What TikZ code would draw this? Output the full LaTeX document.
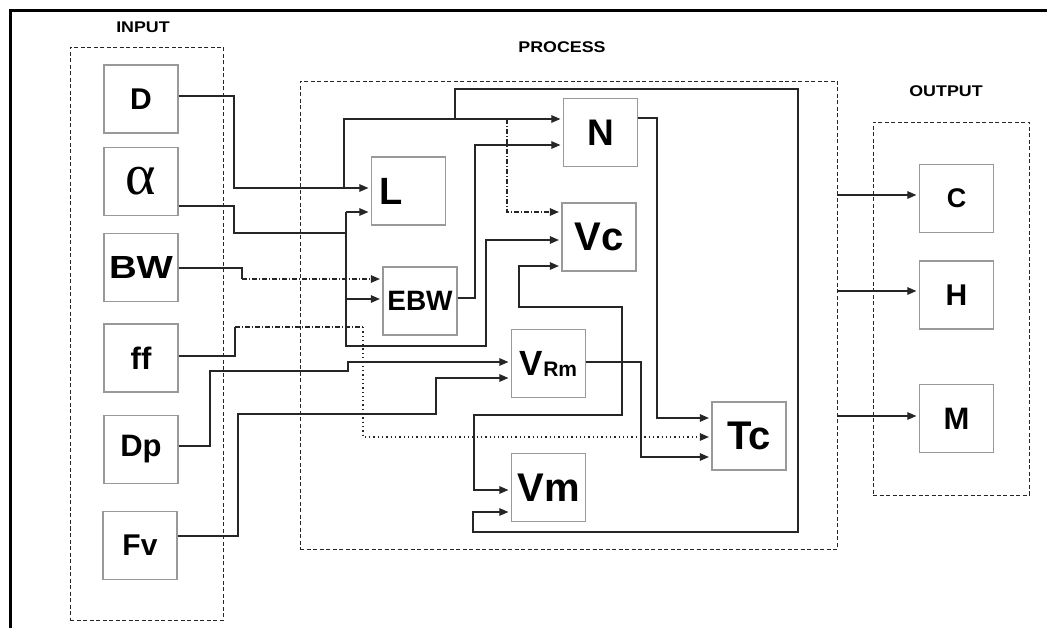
\documentclass[tikz,border=0pt]{standalone}
\usepackage{fontspec}
\setmainfont{Liberation Sans}
\newfontfamily\grfont{Liberation Serif}
\usepackage{graphicx}
\usetikzlibrary{arrows.meta}
\newcommand\fsz[1]{\fontsize{#1}{#1}\selectfont}
\begin{document}
\begin{tikzpicture}[x=1pt,y=-1pt,
  box/.style={draw=black!40, line width=1.2pt, minimum width=74pt, minimum height=68pt, inner sep=0pt, font=\bfseries},
  region/.style={draw=black!85, dash pattern=on 4pt off 2.5pt, line width=0.9pt, inner sep=0pt},
  lbl/.style={font=\bfseries\fsz{15.5}, inner sep=0pt},
  conn/.style={draw=black!85, line width=1.1pt},
  arr/.style={conn, -{Triangle[length=9pt,width=7.5pt]}, shorten >=2.5pt},
  dd/.style={dash pattern=on 5pt off 2pt on 1pt off 2pt},
  dt/.style={dash pattern=on 1.3pt off 3pt}]
\useasboundingbox (0,0) rectangle (1047,628);
\clip (0,0) rectangle (1047,628);
\fill[white] (0,0) rectangle (1047,628);
% outer frame
\draw[line width=2.2pt] (10.5,660) -- (10.5,10.5) -- (1070,10.5);
% regions
\node[region, minimum width=153pt, minimum height=573pt] (inp) at (146.5,333.5) {};
\node[region, minimum width=537pt, minimum height=468pt] (proc) at (568.5,315) {};
\node[region, minimum width=156pt, minimum height=373pt] (outp) at (951,308.5) {};
\node[lbl] (tin) at (143,27) {\scalebox{1.15}[1]{INPUT}};
\node[lbl] (tpr) at (562,47) {\scalebox{1.15}[1]{PROCESS}};
\node[lbl] (tout) at (946,91) {\scalebox{1.15}[1]{OUTPUT}};
% input boxes
\node[box] (D) at (141,99) {\fsz{30}D};
\node[box] (al) at (141,181.5) {\grfont\mdseries\fsz{58}α};
\node[box] (BW) at (141,267.5) {\fsz{32}\scalebox{1.2}[1]{BW}};
\node[box] (ff) at (141,358) {\fsz{31}ff};
\node[box] (Dp) at (141,449.5) {\fsz{31}Dp};
\node[box] (Fv) at (140,545.5) {\fsz{30}Fv};
% process boxes
\node[box] (L) at (408.5,191) {\makebox[59pt][l]{\fsz{38}L}};
\node[box] (N) at (600.5,132.5) {\fsz{37}N};
\node[box] (Vc) at (599,237) {\fsz{40}Vc};
\node[box] (EBW) at (420,301) {\fsz{28}EBW};
\node[box] (VRm) at (548.5,363.5) {\fsz{35}V\raisebox{-1pt}{\fsz{21}Rm}};
\node[box] (Vm) at (548.5,487.5) {\fsz{40}Vm};
\node[box] (Tc) at (749,436) {\fsz{40}Tc};
% output boxes
\node[box] (C) at (956.5,198.5) {\fsz{27}C};
\node[box] (H) at (956.5,295) {\fsz{30}H};
\node[box] (M) at (956.5,418.5) {\fsz{31}M};
% junction coordinates
\coordinate (jA) at (344,188);
\coordinate (jB) at (455,119);
\coordinate (jC) at (507,119);
\coordinate (jD) at (346,212);
\coordinate (jE) at (346,299);
\coordinate (jF) at (242,279);
\coordinate (jG) at (235,327);
\coordinate (jH) at (363,327);
% connectors
\draw[arr] (D.east |- 0,96) -- (234,96) -- (234,188) -- (L.west |- jA);
\draw[arr] (jA) -- (344,119) -- (N.west |- 0,119);
\draw[arr] (jB) -- (455,89) -- (798,89) -- (798,532) -- (473,532) -- (473,512) -- (Vm.west |- 0,512);
\draw[arr,dd] (jC) -- (507,212) -- (Vc.west |- 0,212);
\draw[conn] (al.east |- 0,206) -- (234,206) -- (234,233) -- (346,233);
\draw[arr] (jD) -- (L.west |- jD);
\draw[arr] (jE) -- (EBW.west |- jE);
\draw[arr] (jD) -- (346,346) -- (486,346) -- (486,240) -- (Vc.west |- 0,240);
\draw[conn] (BW.east |- 0,268) -- (242,268) -- (jF);
\draw[arr,dd] (jF) -- (EBW.west |- jF);
\draw[arr] (EBW.east |- 0,298) -- (475,298) -- (475,145) -- (N.west |- 0,145);
\draw[conn] (ff.east |- 0,356) -- (235,356) -- (jG);
\draw[conn,dd] (jG) -- (jH);
\draw[arr,dt] (jH) -- (363,437) -- (Tc.west |- 0,437);
\draw[arr] (Dp.east |- 0,446) -- (210,446) -- (210,371) -- (348,371) -- (348,362) -- (VRm.west |- 0,362);
\draw[arr] (Fv.east |- 0,536) -- (238,536) -- (238,414) -- (436,414) -- (436,378) -- (VRm.west |- 0,378);
\draw[arr] (VRm.east |- 0,362) -- (641,362) -- (641,457) -- (Tc.west |- 0,457);
\draw[arr] (N.east |- 0,118) -- (657,118) -- (657,418) -- (Tc.west |- 0,418);
\draw[conn, {Triangle[length=9pt,width=7.5pt]}-{Triangle[length=9pt,width=7.5pt]}, shorten <=2.5pt, shorten >=2.5pt]
  (Vc.west |- 0,266) -- (519,266) -- (519,307) -- (622,307) -- (622,415) -- (474,415) -- (474,490) -- (Vm.west |- 0,490);
\draw[arr] (proc.east |- 0,195) -- (C.west |- 0,195);
\draw[arr] (proc.east |- 0,291) -- (H.west |- 0,291);
\draw[arr] (proc.east |- 0,416) -- (M.west |- 0,416);
\end{tikzpicture}
\end{document}
